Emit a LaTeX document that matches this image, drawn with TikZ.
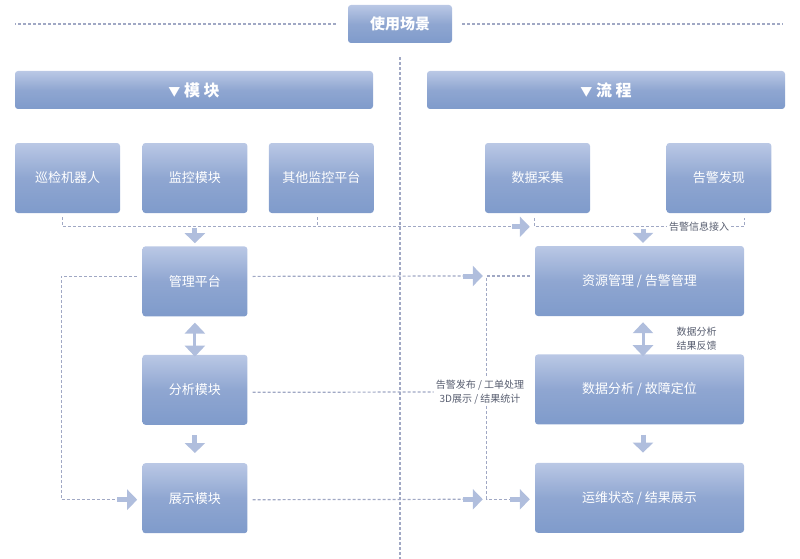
\documentclass[tikz,border=0pt]{standalone}
\usepackage{fontspec}
\setmainfont{Noto Sans CJK SC}
\usepackage{xcolor}
\usepackage{tikz}
\usetikzlibrary{arrows.meta, positioning}
\definecolor{boxtop}{RGB}{186,200,229}
\definecolor{boxmid}{RGB}{143,166,209}
\definecolor{boxbot}{RGB}{127,155,203}
\definecolor{arrowblue}{RGB}{176,190,221}
\definecolor{dashgray}{RGB}{160,168,196}
\definecolor{notegray}{RGB}{88,94,112}

\begin{document}
\begin{tikzpicture}[
        x=1pt, y=1pt,
        node distance=22pt,
        box/.style={rectangle, rounded corners=3pt, top color=boxtop, bottom color=boxbot,
                    middle color=boxmid, minimum width=105pt, minimum height=70pt,
                    inner sep=0pt, text=white, font=\fontsize{13}{15}\selectfont},
        widebox/.style={box, minimum width=209pt},
        headbox/.style={box, minimum width=358pt, minimum height=38pt,
                        font=\bfseries\fontsize{16}{18}\selectfont},
        titlebox/.style={box, minimum width=104pt, minimum height=38pt,
                         font=\bfseries\fontsize{15}{17}\selectfont},
        note/.style={font=\fontsize{10}{14}\selectfont, text=notegray, align=center, inner sep=2pt},
        dashline/.style={draw=dashgray, line width=1.2pt, dash pattern=on 3pt off 2pt},
        fatarrow/.style={draw=arrowblue, line width=5pt, -{Triangle[width=20pt,length=10pt]}},
        dblarrow/.style={draw=arrowblue, line width=3pt,
                         {Triangle[width=20pt,length=11pt]}-{Triangle[width=20pt,length=11pt]}},
      ]
      \useasboundingbox (0,0) rectangle (800,-559);

      % headings
      \node[titlebox] (scene) at (400,-24) {使用场景};
      \node[headbox] (modhead) at (194,-90) {{\fontsize{12}{14}\selectfont▼}\ 模\ 块};
      \node[headbox] (flowhead) at (606,-90) {{\fontsize{12}{14}\selectfont▼}\ 流\ 程};
      \draw[dashline] ([xshift=-12pt]scene.west) -- (scene.west -| modhead.west);
      \draw[dashline] ([xshift=10pt]scene.east) -- ([xshift=-2pt]scene.east -| flowhead.east);
      \draw[dashline] ([yshift=-14pt]scene.south) -- ++(0,-502);

      % modules
      \node[box] (robot) at (67.5,-178) {巡检机器人};
      \node[box, right=22pt of robot] (monitor) {监控模块};
      \node[box, right=21pt of monitor] (otherpf) {其他监控平台};
      \node[box, below=33pt of monitor] (mgmt) {管理平台};
      \node[box, below=38pt of mgmt] (analysis) {分析模块};
      \node[box, below=38pt of analysis] (display) {展示模块};

      % flow
      \node[box] (collect) at (537.5,-178) {数据采集};
      \node[box, right=76pt of collect] (alarm) {告警发现};
      \node[widebox] (resmgmt) at (639.5,-281) {资源管理 / 告警管理};
      \node[widebox, below=38pt of resmgmt] (faultloc) {数据分析 / 故障定位};
      \node[widebox, below=38pt of faultloc] (opsview) {运维状态 / 结果展示};
      \node[note] (publish) at (480,-392) {告警发布 / 工单处理\\3D展示 / 结果统计};

      % inputs
      \draw[dashline] ([xshift=-5pt,yshift=-4pt]robot.south) |- ([xshift=-23pt,yshift=19pt]resmgmt.north west);
      \draw[dashline] ([xshift=-4pt,yshift=-4pt]otherpf.south) -- ++(0,-9);
      \draw[fatarrow] ([xshift=-23pt,yshift=19pt]resmgmt.north west) -- ([xshift=-5pt,yshift=19pt]resmgmt.north west);
      \draw[dashline] ([yshift=28pt]resmgmt.north west) -- ([yshift=19pt]resmgmt.north west)
        -- node[note, fill=white, pos=0.785] (alarmin) {告警信息接入} ([yshift=19pt]resmgmt.north east)
        -- ([yshift=28pt]resmgmt.north east);
      \draw[fatarrow] ([yshift=18pt]mgmt.north) -- ([yshift=3pt]mgmt.north);
      \draw[fatarrow] ([xshift=3.5pt,yshift=17pt]resmgmt.north) -- ([xshift=3.5pt,yshift=3pt]resmgmt.north);

      % steps
      \draw[dblarrow] ([yshift=-6pt]mgmt.south) -- ([yshift=-2pt]analysis.north);
      \draw[fatarrow] ([yshift=-10pt]analysis.south) -- ([yshift=10pt]display.north);
      \draw[dblarrow] ([xshift=3.5pt,yshift=-6pt]resmgmt.south) -- node[note, right=30pt] (feedback) {数据分析\\结果反馈}
        ([xshift=3.5pt,yshift=-2pt]faultloc.north);
      \draw[fatarrow] ([xshift=3.5pt,yshift=-10pt]faultloc.south) -- ([xshift=3.5pt,yshift=10pt]opsview.north);

      % loop back on the left
      \draw[dashline] ([xshift=-5pt,yshift=5pt]mgmt.west) -- ++(-76,0) |- ([xshift=-25pt,yshift=-1.5pt]display.west);
      \draw[fatarrow] ([xshift=-25pt,yshift=-1.5pt]display.west) -- ([xshift=-5pt,yshift=-1.5pt]display.west);

      % across the divider
      \draw[dashline] ([xshift=5pt,yshift=5pt]mgmt.east) -- ([xshift=-72pt,yshift=5pt]resmgmt.west);
      \draw[fatarrow] ([xshift=-72pt,yshift=5pt]resmgmt.west) -- ([xshift=-52pt,yshift=5pt]resmgmt.west);
      \draw[dashline] ([xshift=5pt,yshift=-2.5pt]analysis.east) -- (publish.west);
      \draw[dashline] ([xshift=5pt,yshift=-1.5pt]display.east) -- ([xshift=-72pt,yshift=-1.5pt]opsview.west);
      \draw[fatarrow] ([xshift=-72pt,yshift=-1.5pt]opsview.west) -- ([xshift=-52pt,yshift=-1.5pt]opsview.west);

      % bus on the right
      \coordinate (bustop) at ([xshift=-48pt,yshift=5pt]resmgmt.west);
      \coordinate (busbot) at ([xshift=-48pt,yshift=-1.5pt]opsview.west);
      \draw[dashline] ([xshift=-5pt,yshift=5pt]resmgmt.west) -- (bustop) -- (bustop |- publish.north);
      \draw[dashline] (bustop |- publish.south) -- (busbot) -- ([xshift=-25pt,yshift=-1.5pt]opsview.west);
      \draw[fatarrow] ([xshift=-25pt,yshift=-1.5pt]opsview.west) -- ([xshift=-5pt,yshift=-1.5pt]opsview.west);
    \end{tikzpicture}
\end{document}
